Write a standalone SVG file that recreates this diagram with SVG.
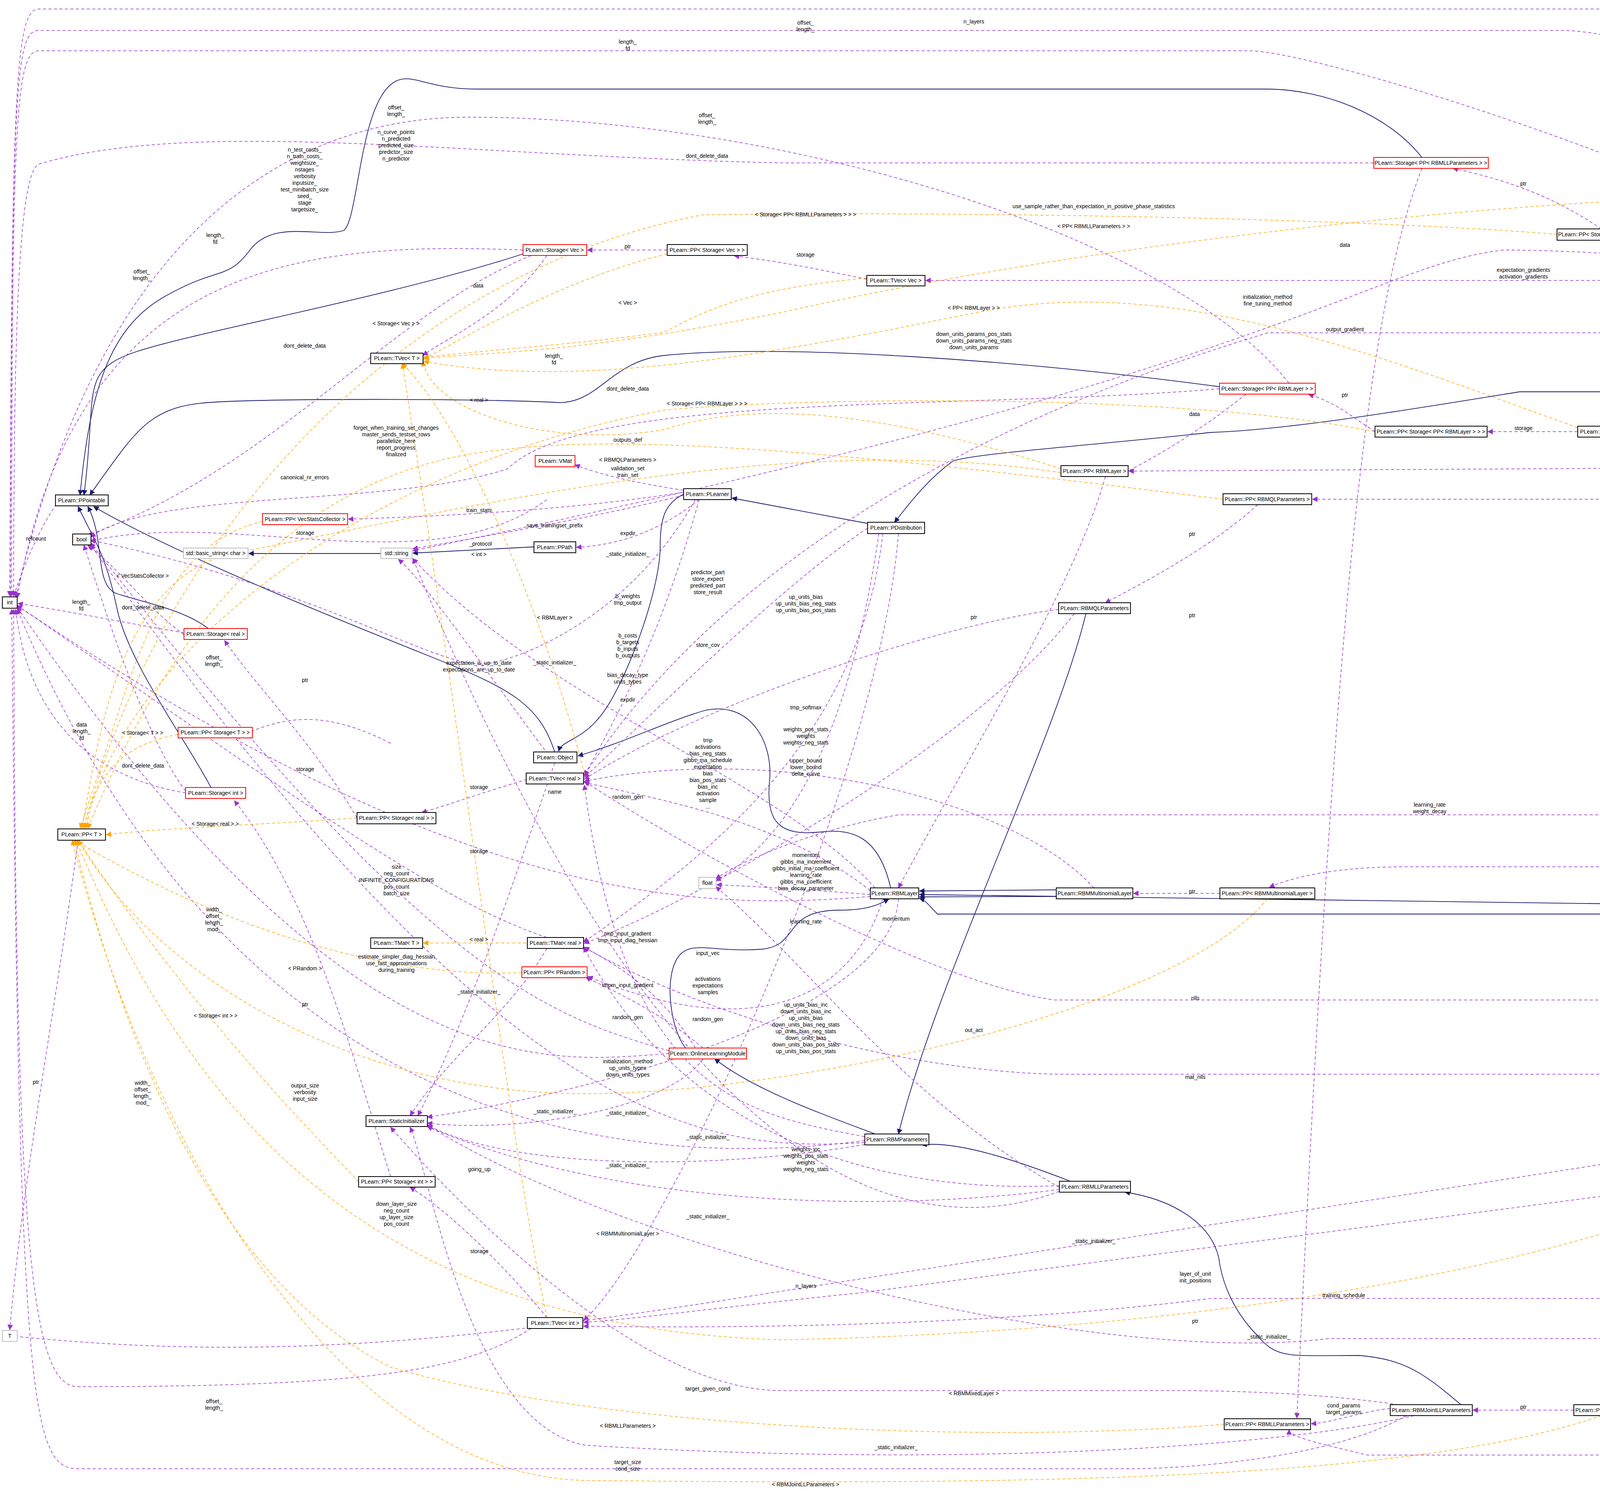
<svg xmlns="http://www.w3.org/2000/svg" width="5419" height="3817" viewBox="0 0 5419 3817">
<defs>
<marker id="ap" viewBox="0 0 10 10" refX="9" refY="5" markerWidth="14" markerHeight="14" markerUnits="userSpaceOnUse" orient="auto"><path d="M0,0L10,5L0,10z" fill="#9a32cd"/></marker>
<marker id="ao" viewBox="0 0 10 10" refX="9" refY="5" markerWidth="14" markerHeight="14" markerUnits="userSpaceOnUse" orient="auto"><path d="M0,0L10,5L0,10z" fill="orange"/></marker>
<marker id="an" viewBox="0 0 10 10" refX="9" refY="5" markerWidth="14" markerHeight="14" markerUnits="userSpaceOnUse" orient="auto"><path d="M0,0L10,5L0,10z" fill="#191970"/></marker>
</defs>
<style>
text{font-family:"Liberation Sans",Arial,sans-serif;font-size:14px;fill:#000}
.n rect{fill:#fff;stroke:#000;stroke-width:2}
.n.r rect{stroke:#ff0000}
.n.g rect{stroke:#bfbfbf}
.n.s rect{fill:#bfbfbf}
.n text{text-anchor:middle}
#edges path{fill:none}
.u{stroke:#9a32cd;stroke-width:1.5;stroke-dasharray:8,6;marker-end:url(#ap)}
.t{stroke:orange;stroke-width:1.5;stroke-dasharray:8,6;marker-end:url(#ao)}
.i{stroke:#191970;stroke-width:1.8;marker-end:url(#an)}
.l text{text-anchor:middle}
</style>
<rect width="5419" height="3817" fill="#fff"/>
<g id="edges">
<path class="i" d="M1420,1925 C1380,1800 1300,1760 1100,1680 S450,1420 240,1297"/>
<path class="i" d="M533,1609 C470,1560 360,1540 300,1520 S270,1380 225,1297"/>
<path class="i" d="M540,2016 C480,1900 330,1700 300,1560 S250,1400 200,1297"/>
<path class="i" d="M1339,650 C1000,760 500,850 350,900 S250,1000 215,1267"/>
<path class="i" d="M3640,403 C3560,300 3400,228 3240,228 L1220,228 C1100,228 1060,190 1020,205 C920,240 920,560 880,590 C820,610 700,560 640,640 S560,680 420,760 S230,1000 205,1267"/>
<path class="i" d="M3122,990 C2600,920 2000,880 1700,910 C1560,925 1530,1040 1420,1030 C1200,1020 700,1020 540,1030 S350,1100 230,1267"/>
<path class="i" d="M975,1417 L637,1417"/>
<path class="i" d="M1367,1400 L1057,1416"/>
<path class="i" d="M1750,1265 C1700,1290 1690,1330 1690,1400 C1690,1500 1620,1700 1560,1800 S1440,1890 1430,1923"/>
<path class="i" d="M2221,1340 L1874,1275"/>
<path class="i" d="M5290,1179 C5250,1080 5200,1003 5100,1003 L3890,1003 C3600,1050 3300,1100 3100,1107 C2800,1140 2500,1160 2440,1180 C2370,1230 2320,1300 2290,1337"/>
<path class="i" d="M2280,2273 C2250,2140 2180,2120 2100,2130 C2000,2140 1960,2110 1970,2000 C1980,1900 1920,1790 1800,1820 C1700,1850 1600,1900 1480,1935"/>
<path class="i" d="M1755,2683 C1720,2640 1700,2520 1730,2460 C1760,2400 1820,2440 1950,2430 C2050,2420 2000,2330 2150,2330 C2230,2330 2260,2310 2275,2302"/>
<path class="i" d="M2780,1571 C2700,1900 2400,2500 2300,2903"/>
<path class="i" d="M2240,2903 C2100,2850 1930,2790 1830,2711"/>
<path class="i" d="M2740,3024 C2600,2970 2450,2920 2360,2931"/>
<path class="i" d="M3740,3596 C3650,3520 3600,3480 3480,3470 C3300,3470 3270,3480 3220,3420 C3170,3370 3130,3300 3120,3220 C3100,3130 3000,3070 2880,3052"/>
<path class="i" d="M2704,2278 L2354,2281"/>
<path class="i" d="M2704,2295 L2354,2296"/>
<path class="i" d="M4590,2646 C4550,2540 4470,2440 4360,2340 L2400,2340 C2380,2320 2370,2305 2354,2300"/>
<path class="i" d="M4600,2646 C4560,2520 4480,2430 4360,2317 L2354,2290"/>
<path class="u" d="M5300,1179 C5280,500 5230,23 5000,23 L100,23 C40,23 30,200 25,1526"/>
<path class="u" d="M5300,1179 C5260,500 4300,78 4000,78 L100,78 C40,78 30,200 27,1526"/>
<path class="u" d="M5300,1179 C5240,700 3420,130 3200,130 L100,130 C40,130 30,300 30,1526"/>
<path class="u" d="M5300,1179 C5260,900 5200,460 4700,489"/>
<path class="u" d="M5300,1179 C5270,900 5200,718 5000,718 L2370,718"/>
<path class="u" d="M5300,1179 C5270,900 5200,852 5000,852 L3245,852 C3100,900 2000,1200 1496,1985"/>
<path class="u" d="M5300,1179 C5260,1000 5000,650 3850,640 C3500,680 3300,950 1057,1410"/>
<path class="u" d="M5179,1185 C5000,1160 4600,1120 4272,1108"/>
<path class="u" d="M5179,1193 L2890,1206"/>
<path class="u" d="M5270,1207 C5200,1260 5100,1278 4900,1278 L3360,1278"/>
<path class="u" d="M5300,1207 C5280,1600 5200,2086 5000,2086 L2300,2086 C2100,2120 1900,2200 1833,2250"/>
<path class="u" d="M5300,1207 C5280,1700 5200,2219 5000,2219 L3600,2219 C3400,2219 3300,2250 3250,2271"/>
<path class="u" d="M5300,1207 C5240,1800 5100,2300 4980,2644"/>
<path class="u" d="M5300,1207 C5280,2000 5200,3324 5000,3324 L3100,3324 C2500,3400 1800,3400 1494,3395"/>
<path class="u" d="M5300,1207 C5280,2200 5200,3427 5000,3427 L3400,3427 C2800,3500 1600,3200 1094,2880"/>
<path class="u" d="M5300,1207 C5280,2500 5100,3650 4800,3650 C4500,3650 4400,3650 4282,3620"/>
<path class="u" d="M5300,1207 C5280,2600 5200,3725 5000,3725 L3500,3725 C3400,3700 3300,3680 3300,3660"/>
<path class="u" d="M4540,2646 C4400,2580 4300,2560 4200,2560 L2700,2560 C2400,2520 1800,2200 1496,2000"/>
<path class="u" d="M4530,2674 C4400,2740 4300,2750 4200,2750 L2700,2750 C2300,2740 1800,2600 1496,2425"/>
<path class="u" d="M4860,2660 L4681,2660"/>
<path class="u" d="M4596,2646 C4560,2300 4400,1400 4210,1121"/>
<path class="u" d="M4560,2674 C4500,2900 4400,2950 4300,2950 L2100,3290 C1400,3400 800,3500 30,3420"/>
<path class="u" d="M4590,2674 C4520,2950 4450,3030 4350,3030 L2200,3310 C1900,3340 1600,3380 1494,3385"/>
<path class="u" d="M3559,3606 C3500,3610 3420,3640 3357,3645"/>
<path class="u" d="M4029,3610 L3771,3610"/>
<path class="u" d="M3580,3596 C3400,3570 3200,3560 3000,3560 L2000,3560 C1600,3560 1100,3000 1000,2886"/>
<path class="u" d="M3600,3624 C3400,3740 3000,3760 2900,3760 L200,3760 C80,3760 50,3600 30,1560"/>
<path class="u" d="M3620,3624 C3300,3700 2500,3760 1500,3700 C1200,3650 1100,3000 1050,2886"/>
<path class="u" d="M3520,1105 C3450,1060 3420,1030 3350,1010"/>
<path class="u" d="M4039,1105 L3809,1105"/>
<path class="u" d="M3190,1009 C3100,1080 3000,1150 2860,1220"/>
<path class="u" d="M4100,586 C4000,520 3900,470 3720,431"/>
<path class="u" d="M4640,518 C4550,540 4450,560 4280,588"/>
<path class="u" d="M3640,431 C3500,800 3420,1500 3320,3630"/>
<path class="u" d="M3220,1292 C3100,1400 2950,1480 2830,1543"/>
<path class="u" d="M2830,1220 C2750,1500 2500,1900 2300,2273"/>
<path class="u" d="M3123,2287 L2902,2287"/>
<path class="u" d="M1708,640 L1504,640"/>
<path class="u" d="M2219,715 C2100,690 2000,670 1880,655"/>
<path class="u" d="M1400,654 C1300,800 1150,860 1083,910"/>
<path class="u" d="M914,2094 C800,1900 650,1750 575,1640"/>
<path class="u" d="M1350,1995 C1200,2040 1150,2060 1080,2080"/>
<path class="u" d="M1400,3373 C1300,3250 1150,3100 1050,3040"/>
<path class="u" d="M1000,3012 C900,2700 800,2300 600,2050"/>
<path class="u" d="M1000,1903 C800,1800 700,1850 600,1889"/>
<path class="u" d="M200,2151 C140,2600 60,3000 25,3404"/>
<path class="u" d="M160,1267 C100,1350 60,1450 35,1526"/>
<path class="u" d="M471,1620 C350,1600 150,1560 46,1545"/>
<path class="u" d="M471,1625 C380,1560 300,1450 225,1396"/>
<path class="u" d="M475,2030 C300,2000 80,1900 40,1560"/>
<path class="u" d="M475,2025 C380,1900 280,1600 215,1396"/>
<path class="u" d="M1339,640 C800,620 200,650 44,1530"/>
<path class="u" d="M1360,654 C1000,800 700,1200 225,1370"/>
<path class="u" d="M3517,417 L2000,417 C1200,400 500,300 100,420 C50,440 35,800 35,1526"/>
<path class="u" d="M3122,995 C2500,1050 1500,1000 1300,1200 C1000,1300 400,1250 232,1375"/>
<path class="u" d="M3300,981 C3000,600 2000,300 1200,300 C900,300 300,420 40,1530"/>
<path class="u" d="M1750,1260 C1500,1300 1200,1320 892,1329"/>
<path class="u" d="M1750,1268 C1500,1330 1200,1380 1057,1405"/>
<path class="u" d="M1790,1279 C1700,1350 1600,1395 1476,1401"/>
<path class="u" d="M1750,1255 C1650,1240 1550,1220 1472,1190"/>
<path class="u" d="M1780,1279 C1600,1600 1300,1700 1230,1700 C1100,1700 800,1500 232,1383"/>
<path class="u" d="M1790,1279 C1700,1600 1600,1800 1496,1985"/>
<path class="u" d="M1420,1953 C1300,1800 1100,1500 1020,1432"/>
<path class="u" d="M2221,1352 C2000,1500 1700,1800 1496,1990"/>
<path class="u" d="M2250,1366 C2200,1700 2100,2100 1833,2255"/>
<path class="u" d="M2260,1366 C2200,1900 1800,2200 1494,2412"/>
<path class="u" d="M2300,1366 C2250,2000 1700,3200 1494,3380"/>
<path class="u" d="M2710,1560 C2400,1600 1800,1800 1496,1995"/>
<path class="u" d="M2750,1571 C2500,1900 1800,2300 1496,2415"/>
<path class="u" d="M2800,2273 C2600,2050 2000,1900 1496,2000"/>
<path class="u" d="M2228,2280 C2000,2100 1700,2050 1496,2003"/>
<path class="u" d="M2228,2290 C2100,2280 1950,2270 1835,2265"/>
<path class="u" d="M2228,2295 C1800,2330 1200,2330 44,1550"/>
<path class="u" d="M2240,2273 C2000,2000 1400,1800 1057,1430"/>
<path class="u" d="M2260,2301 C2200,2500 2000,2700 1505,2500"/>
<path class="u" d="M2300,2301 C2280,2600 1500,2800 1094,2860"/>
<path class="u" d="M1800,2683 C1700,2600 1600,2550 1500,2502"/>
<path class="u" d="M1780,2683 C1700,2550 1600,2480 1494,2425"/>
<path class="u" d="M1713,2690 C1400,2600 1100,2500 232,1390"/>
<path class="u" d="M1713,2697 C1400,2720 900,2800 44,1555"/>
<path class="u" d="M1800,2711 C1700,2850 1300,2900 1094,2875"/>
<path class="u" d="M2214,2910 C1900,2850 1600,2800 1496,2010"/>
<path class="u" d="M2214,2920 C1600,3000 600,2900 44,1560"/>
<path class="u" d="M2214,2925 C1800,2950 1300,2900 232,1395"/>
<path class="u" d="M2214,2930 C1800,3000 1300,2990 1094,2880"/>
<path class="u" d="M2712,3035 C2400,3050 1800,3000 1494,2425"/>
<path class="u" d="M2712,3045 C2300,3100 1600,3100 1094,2884"/>
<path class="u" d="M2712,3050 C2300,3200 1700,3000 1057,1430"/>
<path class="u" d="M2712,3040 C2300,2800 2100,2500 1833,2270"/>
<path class="u" d="M1400,2400 C1100,2300 700,2000 44,1550"/>
<path class="u" d="M1360,3401 C1200,3500 1000,3550 200,3550 C80,3550 40,3200 35,1560"/>
<path class="u" d="M1400,2428 C1300,2600 1150,2700 1050,2856"/>
<path class="u" d="M1420,1953 C1300,2300 1200,2600 1070,2856"/>
<path class="u" d="M1400,1279 C1100,1500 600,1300 232,1385"/>
<path class="t" d="M2716,1200 C2400,1100 2000,1000 1700,1100 C1400,1150 1100,1050 1083,925"/>
<path class="t" d="M2219,712 C1900,740 1800,800 1700,850 C1500,880 1200,900 1085,915"/>
<path class="t" d="M1708,650 C1500,700 1300,800 1085,920"/>
<path class="t" d="M4039,1095 C3500,900 3000,700 2500,800 C2000,900 1500,1000 1085,925"/>
<path class="t" d="M4457,500 C3800,520 2800,620 2000,800 C1500,900 1300,900 1085,917"/>
<path class="t" d="M1500,1995 C1400,1600 1200,1100 1030,931"/>
<path class="t" d="M1400,3373 C1300,2900 1200,2000 1030,931"/>
<path class="t" d="M1347,2414 L1084,2414"/>
<path class="t" d="M914,2094 C700,2110 400,2120 272,2137"/>
<path class="t" d="M456,1880 C350,1900 250,1950 215,2120"/>
<path class="t" d="M672,1335 C400,1400 350,1700 205,2120"/>
<path class="t" d="M1336,2490 C1100,2500 700,2450 190,2151"/>
<path class="t" d="M918,3025 C800,2900 500,2600 200,2151"/>
<path class="t" d="M2716,1210 C2000,1100 1200,1300 580,1420 C300,1500 250,1900 210,2120"/>
<path class="t" d="M3131,1278 C2500,1200 1700,1100 1300,1150 C700,1200 400,1700 225,2120"/>
<path class="t" d="M3520,1105 C3000,1000 2000,1020 1700,1050 C900,1200 300,1700 220,2120"/>
<path class="t" d="M3986,600 C3500,560 2500,540 1800,550 C1000,700 400,1400 215,2120"/>
<path class="t" d="M3245,2301 C3000,2600 2000,2800 1500,2800 C900,2800 400,2500 200,2151"/>
<path class="t" d="M4970,2674 C4700,3100 3500,3400 2000,3430 C1000,3400 500,2900 195,2151"/>
<path class="t" d="M3134,3646 C2500,3700 1500,3650 1000,3500 C600,3300 350,2800 190,2151"/>
<path class="t" d="M4100,3624 C3600,3800 2500,3800 1500,3790 C900,3780 400,3000 185,2151"/>
</g>
<g id="labels" class="l">
<text x="2493" y="60">n_layers</text>
<text x="2062" y="63">offset_</text><text x="2062" y="80">length_</text>
<text x="1607" y="112">length_</text><text x="1607" y="129">fd</text>
<text x="4960" y="465">params</text>
<text x="3443" y="632">data</text>
<text x="3900" y="475">ptr</text>
<text x="4387" y="536">storage</text>
<text x="3900" y="696">expectation_gradients</text><text x="3900" y="713">activation_gradients</text>
<text x="3245" y="765">initialization_method</text><text x="3245" y="782">fine_tuning_method</text>
<text x="3443" y="848">output_gradient</text>
<text x="3058" y="1065">data</text>
<text x="3443" y="1016">ptr</text>
<text x="3900" y="1101">storage</text>
<text x="4795" y="1138">layers</text>
<text x="4390" y="1171">sub_layers</text>
<text x="4155" y="1188">last_layer</text>
<text x="4390" y="1270">input_params</text>
<text x="3052" y="1372">ptr</text>
<text x="3052" y="1580">ptr</text>
<text x="3660" y="2065">learning_rate</text><text x="3660" y="2082">weight_decay</text>
<text x="4390" y="2210">target_layer</text>
<text x="5120" y="2248">joint_layer</text>
<text x="3052" y="2287">ptr</text>
<text x="3060" y="2560">nlls</text>
<text x="3060" y="2762">mat_nlls</text>
<text x="4790" y="2645">ptr</text>
<text x="3060" y="3266">layer_of_unit</text><text x="3060" y="3283">init_positions</text>
<text x="3440" y="3321">training_schedule</text>
<text x="3060" y="3387">ptr</text>
<text x="3248" y="3427">_static_initializer_</text>
<text x="3440" y="3603">cond_params</text><text x="3440" y="3620">target_params</text>
<text x="3900" y="3607">ptr</text>
<text x="4790" y="3617">joint_params</text>
<text x="4390" y="3723">target_params</text>
<text x="2062" y="554">&lt; Storage&lt; PP&lt; RBMLLParameters &gt; &gt; &gt;</text>
<text x="2800" y="533">use_sample_rather_than_expectation_in_positive_phase_statistics</text>
<text x="2800" y="584">&lt; PP&lt; RBMLLParameters &gt; &gt;</text>
<text x="2493" y="793">&lt; PP&lt; RBMLayer &gt; &gt;</text>
<text x="2493" y="860">down_units_params_pos_stats</text><text x="2493" y="877">down_units_params_neg_stats</text><text x="2493" y="894">down_units_params</text>
<text x="1014" y="280">offset_</text><text x="1014" y="297">length_</text>
<text x="1810" y="300">offset_</text><text x="1810" y="317">length_</text>
<text x="1014" y="343">n_curve_points</text><text x="1014" y="360">n_predicted</text><text x="1014" y="377">predicted_size</text><text x="1014" y="394">predictor_size</text><text x="1014" y="411">n_predictor</text>
<text x="780" y="388">n_test_costs_</text><text x="780" y="405">n_train_costs_</text><text x="780" y="422">weightsize_</text><text x="780" y="439">nstages</text><text x="780" y="456">verbosity</text><text x="780" y="473">inputsize_</text><text x="780" y="490">test_minibatch_size</text><text x="780" y="507">seed_</text><text x="780" y="524">stage</text><text x="780" y="541">targetsize_</text>
<text x="1810" y="404">dont_delete_data</text>
<text x="551" y="607">length_</text><text x="551" y="624">fd</text>
<text x="1607" y="636">ptr</text>
<text x="2062" y="657">storage</text>
<text x="363" y="700">offset_</text><text x="363" y="717">length_</text>
<text x="1224" y="736">data</text>
<text x="1607" y="780">&lt; Vec &gt;</text>
<text x="1014" y="833">&lt; Storage&lt; Vec &gt; &gt;</text>
<text x="780" y="890">dont_delete_data</text>
<text x="1418" y="916">length_</text><text x="1418" y="933">fd</text>
<text x="1607" y="1000">dont_delete_data</text>
<text x="1226" y="1029">&lt; real &gt;</text>
<text x="1810" y="1038">&lt; Storage&lt; PP&lt; RBMLayer &gt; &gt; &gt;</text>
<text x="1014" y="1100">forget_when_training_set_changes</text><text x="1014" y="1117">master_sends_testset_rows</text><text x="1014" y="1134">parallelize_here</text><text x="1014" y="1151">report_progress</text><text x="1014" y="1168">finalized</text>
<text x="1607" y="1131">outputs_def</text>
<text x="1607" y="1182">&lt; RBMQLParameters &gt;</text>
<text x="1607" y="1204">validation_set</text><text x="1607" y="1221">train_set</text>
<text x="780" y="1227">canonical_nr_errors</text>
<text x="1226" y="1311">train_stats</text>
<text x="1420" y="1350">save_trainingset_prefix</text>
<text x="1607" y="1370">expdir</text>
<text x="781" y="1369">storage</text>
<text x="92" y="1384">refcount</text>
<text x="1607" y="1423">_static_initializer_</text>
<text x="1230" y="1397">_protocol</text>
<text x="1226" y="1424">&lt; int &gt;</text>
<text x="365" y="1479">&lt; VecStatsCollector &gt;</text>
<text x="1812" y="1470">predictor_part</text><text x="1812" y="1487">store_expect</text><text x="1812" y="1504">predicted_part</text><text x="1812" y="1521">store_result</text>
<text x="1607" y="1531">b_weights</text><text x="1607" y="1548">tmp_output</text>
<text x="2063" y="1533">up_units_bias</text><text x="2063" y="1550">up_units_bias_neg_stats</text><text x="2063" y="1567">up_units_bias_pos_stats</text>
<text x="208" y="1546">length_</text><text x="208" y="1563">fd</text>
<text x="366" y="1560">dont_delete_data</text>
<text x="1420" y="1586">&lt; RBMLayer &gt;</text>
<text x="2493" y="1585">ptr</text>
<text x="1607" y="1632">b_costs</text><text x="1607" y="1649">b_targets</text><text x="1607" y="1666">b_inputs</text><text x="1607" y="1683">b_outputs</text>
<text x="1812" y="1656">store_cov</text>
<text x="548" y="1688">offset_</text><text x="548" y="1705">length_</text>
<text x="1420" y="1701">_static_initializer_</text>
<text x="1226" y="1702">expectation_is_up_to_date</text><text x="1226" y="1719">expectations_are_up_to_date</text>
<text x="1607" y="1733">bias_decay_type</text><text x="1607" y="1750">units_types</text>
<text x="781" y="1746">ptr</text>
<text x="1607" y="1796">expdir</text>
<text x="2063" y="1816">tmp_softmax</text>
<text x="209" y="1860">data</text><text x="209" y="1877">length_</text><text x="209" y="1894">fd</text>
<text x="365" y="1881">&lt; Storage&lt; T &gt; &gt;</text>
<text x="2063" y="1872">weights_pos_stats</text><text x="2063" y="1889">weights</text><text x="2063" y="1906">weights_neg_stats</text>
<text x="1812" y="1900">tmp</text><text x="1812" y="1917">activations</text><text x="1812" y="1934">bias_neg_stats</text><text x="1812" y="1951">gibbs_ma_schedule</text><text x="1812" y="1968">expectation</text><text x="1812" y="1985">bias</text><text x="1812" y="2002">bias_pos_stats</text><text x="1812" y="2019">bias_inc</text><text x="1812" y="2036">activation</text><text x="1812" y="2053">sample</text><text x="1812" y="2070">...</text>
<text x="2063" y="1952">upper_bound</text><text x="2063" y="1969">lower_bound</text><text x="2063" y="1986">delta_curve</text>
<text x="366" y="1965">dont_delete_data</text>
<text x="781" y="1974">storage</text>
<text x="1226" y="2020">storage</text>
<text x="1420" y="2032">name</text>
<text x="1607" y="2045">random_gen</text>
<text x="551" y="2114">&lt; Storage&lt; real &gt; &gt;</text>
<text x="1226" y="2184">storage</text>
<text x="2063" y="2194">momentum</text><text x="2063" y="2211">gibbs_ma_increment</text><text x="2063" y="2228">gibbs_initial_ma_coefficient</text><text x="2063" y="2245">learning_rate</text><text x="2063" y="2262">gibbs_ma_coefficient</text><text x="2063" y="2279">bias_decay_parameter</text>
<text x="1015" y="2224">size</text><text x="1015" y="2241">neg_count</text><text x="1015" y="2258">INFINITE_CONFIGURATIONS</text><text x="1015" y="2275">pos_count</text><text x="1015" y="2292">batch_size</text>
<text x="2063" y="2364">learning_rate</text>
<text x="2294" y="2357">momentum</text>
<text x="548" y="2333">width_</text><text x="548" y="2350">offset_</text><text x="548" y="2367">length_</text><text x="548" y="2384">mod_</text>
<text x="1226" y="2410">&lt; real &gt;</text>
<text x="1607" y="2395">tmp_input_gradient</text><text x="1607" y="2412">tmp_input_diag_hessian</text>
<text x="1812" y="2445">input_vec</text>
<text x="1015" y="2454">estimate_simpler_diag_hessian</text><text x="1015" y="2471">use_fast_approximations</text><text x="1015" y="2488">during_training</text>
<text x="781" y="2484">&lt; PRandom &gt;</text>
<text x="1812" y="2511">activations</text><text x="1812" y="2528">expectations</text><text x="1812" y="2545">samples</text>
<text x="1607" y="2527">tmpm_input_gradient</text>
<text x="1226" y="2544">_static_initializer_</text>
<text x="781" y="2576">ptr</text>
<text x="552" y="2605">&lt; Storage&lt; int &gt; &gt;</text>
<text x="2063" y="2577">up_units_bias_inc</text><text x="2063" y="2594">down_units_bias_inc</text><text x="2063" y="2611">up_units_bias</text><text x="2063" y="2628">down_units_bias_neg_stats</text><text x="2063" y="2645">up_units_bias_neg_stats</text><text x="2063" y="2662">down_units_bias</text><text x="2063" y="2679">down_units_bias_pos_stats</text><text x="2063" y="2696">up_units_bias_pos_stats</text>
<text x="1607" y="2609">random_gen</text>
<text x="1812" y="2614">random_gen</text>
<text x="2493" y="2642">out_act</text>
<text x="1607" y="2722">initialization_method</text><text x="1607" y="2739">up_units_types</text><text x="1607" y="2756">down_units_types</text>
<text x="92" y="2775">ptr</text>
<text x="365" y="2777">width_</text><text x="365" y="2794">offset_</text><text x="365" y="2811">length_</text><text x="365" y="2828">mod_</text>
<text x="781" y="2784">output_size</text><text x="781" y="2801">verbosity</text><text x="781" y="2818">input_size</text>
<text x="1421" y="2850">_static_initializer_</text>
<text x="1607" y="2854">_static_initializer_</text>
<text x="1812" y="2916">_static_initializer_</text>
<text x="2063" y="2947">weights_inc</text><text x="2063" y="2964">weights_pos_stats</text><text x="2063" y="2981">weights</text><text x="2063" y="2998">weights_neg_stats</text>
<text x="1227" y="2998">going_up</text>
<text x="1812" y="3119">_static_initializer_</text>
<text x="1607" y="2988">_static_initializer_</text>
<text x="1015" y="3087">down_layer_size</text><text x="1015" y="3104">neg_count</text><text x="1015" y="3121">up_layer_size</text><text x="1015" y="3138">pos_count</text>
<text x="1607" y="3163">&lt; RBMMultinomialLayer &gt;</text>
<text x="2800" y="3182">_static_initializer_</text>
<text x="1227" y="3208">storage</text>
<text x="2063" y="3297">n_layers</text>
<text x="1812" y="3560">target_given_cond</text>
<text x="2493" y="3572">&lt; RBMMixedLayer &gt;</text>
<text x="548" y="3592">offset_</text><text x="548" y="3609">length_</text>
<text x="1607" y="3655">&lt; RBMLLParameters &gt;</text>
<text x="2294" y="3710">_static_initializer_</text>
<text x="1607" y="3748">target_size</text><text x="1607" y="3765">cond_size</text>
<text x="2062" y="3805">&lt; RBMJointLLParameters &gt;</text>
</g>
<g id="PPointable" class="n"><rect x="142" y="1267" width="135" height="28"/><text x="209" y="1286">PLearn::PPointable</text></g>
<g id="bool" class="n"><rect x="186" y="1367" width="47" height="28"/><text x="209" y="1386">bool</text></g>
<g id="int" class="n"><rect x="6" y="1528" width="38" height="29"/><text x="25" y="1547">int</text></g>
<g id="T" class="n g"><rect x="6" y="3406" width="38" height="28"/><text x="25" y="3425">T</text></g>
<g id="PPVecStatsCollector" class="n r"><rect x="672" y="1315" width="218" height="28"/><text x="781" y="1334">PLearn::PP&lt; VecStatsCollector &gt;</text></g>
<g id="basic_string" class="n g"><rect x="470" y="1403" width="165" height="27"/><text x="552" y="1421">std::basic_string&lt; char &gt;</text></g>
<g id="string" class="n g"><rect x="975" y="1403" width="80" height="27"/><text x="1015" y="1421">std::string</text></g>
<g id="PPath" class="n"><rect x="1367" y="1387" width="107" height="28"/><text x="1420" y="1406">PLearn::PPath</text></g>
<g id="StorageReal" class="n r"><rect x="471" y="1609" width="162" height="28"/><text x="552" y="1628">PLearn::Storage&lt; real &gt;</text></g>
<g id="PPStorageT" class="n r"><rect x="456" y="1862" width="190" height="27"/><text x="551" y="1880">PLearn::PP&lt; Storage&lt; T &gt; &gt;</text></g>
<g id="StorageInt" class="n r"><rect x="475" y="2016" width="154" height="28"/><text x="552" y="2035">PLearn::Storage&lt; int &gt;</text></g>
<g id="Object" class="n"><rect x="1366" y="1925" width="111" height="28"/><text x="1421" y="1944">PLearn::Object</text></g>
<g id="TVecReal" class="n"><rect x="1347" y="1979" width="147" height="28"/><text x="1420" y="1998">PLearn::TVec&lt; real &gt;</text></g>
<g id="PPStorageReal" class="n"><rect x="914" y="2080" width="202" height="29"/><text x="1015" y="2099">PLearn::PP&lt; Storage&lt; real &gt; &gt;</text></g>
<g id="PPT" class="n"><rect x="148" y="2122" width="122" height="29"/><text x="209" y="2141">PLearn::PP&lt; T &gt;</text></g>
<g id="TMatT" class="n"><rect x="949" y="2401" width="133" height="27"/><text x="1015" y="2419">PLearn::TMat&lt; T &gt;</text></g>
<g id="TMatReal" class="n"><rect x="1350" y="2400" width="144" height="28"/><text x="1422" y="2419">PLearn::TMat&lt; real &gt;</text></g>
<g id="PPPRandom" class="n r"><rect x="1336" y="2475" width="167" height="28"/><text x="1419" y="2494">PLearn::PP&lt; PRandom &gt;</text></g>
<g id="OnlineLearningModule" class="n r"><rect x="1713" y="2683" width="198" height="28"/><text x="1812" y="2702">PLearn::OnlineLearningModule</text></g>
<g id="RBMParameters" class="n"><rect x="2214" y="2903" width="164" height="28"/><text x="2296" y="2922">PLearn::RBMParameters</text></g>
<g id="RBMLLParameters" class="n"><rect x="2712" y="3024" width="182" height="28"/><text x="2803" y="3043">PLearn::RBMLLParameters</text></g>
<g id="TVecInt" class="n"><rect x="1350" y="3373" width="142" height="28"/><text x="1421" y="3392">PLearn::TVec&lt; int &gt;</text></g>
<g id="RBMJointLLParameters" class="n"><rect x="3559" y="3596" width="210" height="28"/><text x="3664" y="3615">PLearn::RBMJointLLParameters</text></g>
<g id="PPRBMLLParameters" class="n"><rect x="3134" y="3632" width="221" height="28"/><text x="3244" y="3651">PLearn::PP&lt; RBMLLParameters &gt;</text></g>
<g id="VMat" class="n r"><rect x="1370" y="1166" width="102" height="29"/><text x="1421" y="1185">PLearn::VMat</text></g>
<g id="PLearner" class="n"><rect x="1750" y="1251" width="122" height="28"/><text x="1811" y="1270">PLearn::PLearner</text></g>
<g id="PDistribution" class="n"><rect x="2221" y="1337" width="146" height="29"/><text x="2294" y="1356">PLearn::PDistribution</text></g>
<g id="PPRBMLayer" class="n"><rect x="2716" y="1192" width="172" height="28"/><text x="2802" y="1211">PLearn::PP&lt; RBMLayer &gt;</text></g>
<g id="RBMQLParameters" class="n"><rect x="2710" y="1543" width="184" height="28"/><text x="2802" y="1562">PLearn::RBMQLParameters</text></g>
<g id="float" class="n g"><rect x="1789" y="2246" width="44" height="29"/><text x="1811" y="2265">float</text></g>
<g id="RBMLayer" class="n"><rect x="2228" y="2273" width="124" height="28"/><text x="2290" y="2292">PLearn::RBMLayer</text></g>
<g id="RBMMultinomialLayer" class="n"><rect x="2704" y="2273" width="196" height="28"/><text x="2802" y="2292">PLearn::RBMMultinomialLayer</text></g>
<g id="StoragePPRBMLL" class="n r"><rect x="3517" y="403" width="293" height="28"/><text x="3663" y="422">PLearn::Storage&lt; PP&lt; RBMLLParameters &gt; &gt;</text></g>
<g id="TVecPPRBMLL" class="n"><rect x="4457" y="489" width="278" height="29"/><text x="4596" y="508">PLearn::TVec&lt; PP&lt; RBMLLParameters &gt; &gt;</text></g>
<g id="PPStoragePPRBMLL" class="n"><rect x="3986" y="586" width="337" height="29"/><text x="4154" y="605">PLearn::PP&lt; Storage&lt; PP&lt; RBMLLParameters &gt; &gt; &gt;</text></g>
<g id="StoragePPRBMLayer" class="n r"><rect x="3122" y="981" width="245" height="28"/><text x="3244" y="1000">PLearn::Storage&lt; PP&lt; RBMLayer &gt; &gt;</text></g>
<g id="PPStoragePPRBMLayer" class="n"><rect x="3520" y="1091" width="287" height="28"/><text x="3663" y="1110">PLearn::PP&lt; Storage&lt; PP&lt; RBMLayer &gt; &gt; &gt;</text></g>
<g id="TVecPPRBMLayer" class="n"><rect x="4039" y="1091" width="231" height="28"/><text x="4154" y="1110">PLearn::TVec&lt; PP&lt; RBMLayer &gt; &gt;</text></g>
<g id="GaussianDBNClassification" class="n s"><rect x="5179" y="1179" width="236" height="28"/><text x="5297" y="1198">PLearn::GaussianDBNClassification</text></g>
<g id="PPRBMQLParameters" class="n"><rect x="3131" y="1264" width="227" height="28"/><text x="3244" y="1283">PLearn::PP&lt; RBMQLParameters &gt;</text></g>
<g id="StorageVec" class="n r"><rect x="1339" y="626" width="163" height="28"/><text x="1420" y="645">PLearn::Storage&lt; Vec &gt;</text></g>
<g id="PPStorageVec" class="n"><rect x="1708" y="626" width="205" height="28"/><text x="1810" y="645">PLearn::PP&lt; Storage&lt; Vec &gt; &gt;</text></g>
<g id="TVecVec" class="n"><rect x="2219" y="705" width="149" height="27"/><text x="2293" y="723">PLearn::TVec&lt; Vec &gt;</text></g>
<g id="TVecT" class="n"><rect x="949" y="904" width="134" height="27"/><text x="1016" y="922">PLearn::TVec&lt; T &gt;</text></g>
<g id="StaticInitializer" class="n"><rect x="937" y="2856" width="157" height="28"/><text x="1015" y="2875">PLearn::StaticInitializer</text></g>
<g id="PPStorageInt" class="n"><rect x="918" y="3012" width="196" height="27"/><text x="1016" y="3030">PLearn::PP&lt; Storage&lt; int &gt; &gt;</text></g>
<g id="PPRBMMultinomialLayer" class="n"><rect x="3123" y="2273" width="243" height="28"/><text x="3244" y="2292">PLearn::PP&lt; RBMMultinomialLayer &gt;</text></g>
<g id="RBMMixedLayer" class="n"><rect x="4512" y="2646" width="167" height="28"/><text x="4595" y="2665">PLearn::RBMMixedLayer</text></g>
<g id="PPRBMMixedLayer" class="n"><rect x="4860" y="2646" width="208" height="28"/><text x="4964" y="2665">PLearn::PP&lt; RBMMixedLayer &gt;</text></g>
<g id="PPRBMJointLLParameters" class="n"><rect x="4029" y="3596" width="252" height="28"/><text x="4155" y="3615">PLearn::PP&lt; RBMJointLLParameters &gt;</text></g>
</svg>
